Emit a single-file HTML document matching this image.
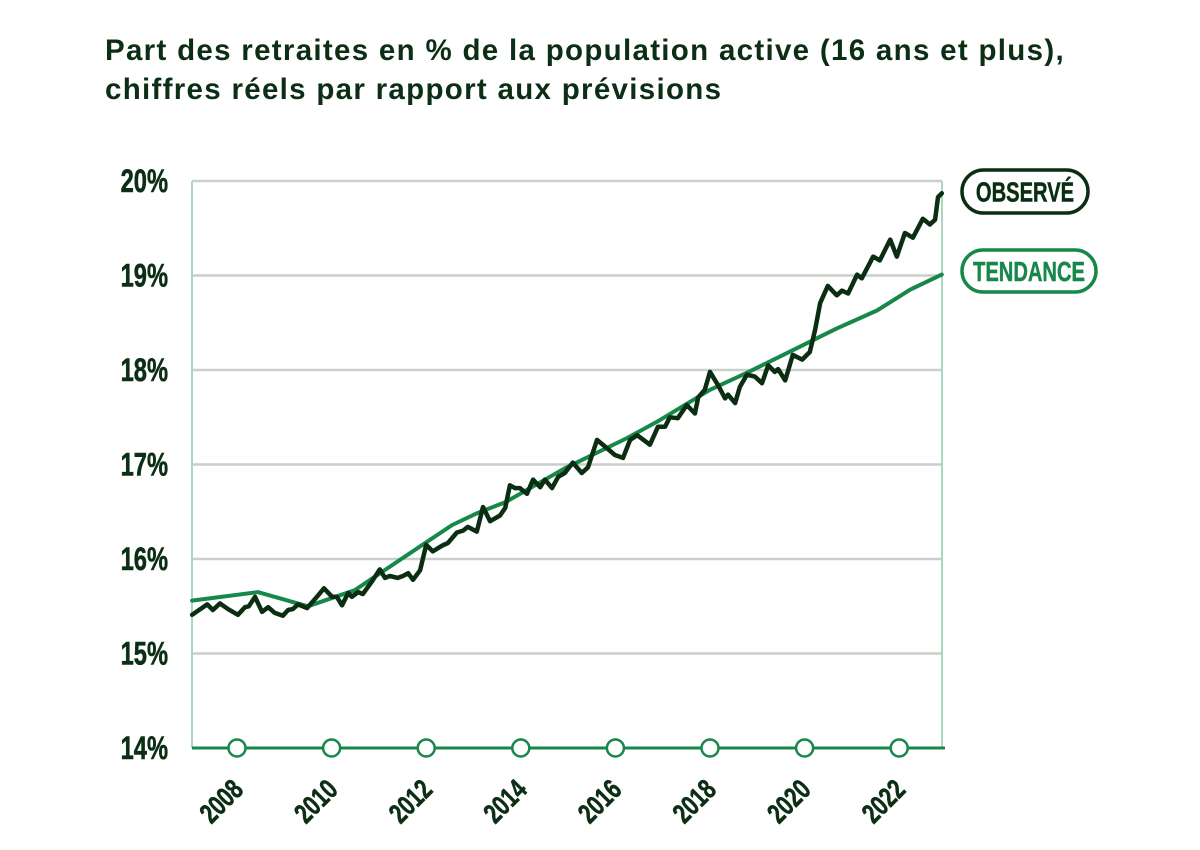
<!DOCTYPE html>
<html><head><meta charset="utf-8"><style>
body{margin:0;background:#fff;width:1200px;height:850px;overflow:hidden;font-family:"Liberation Sans",sans-serif}
.title{position:absolute;left:105px;top:31px;font-size:29.5px;font-weight:bold;color:#0c2e14;line-height:39px;letter-spacing:1.3px;white-space:nowrap}
</style></head><body>
<div class="title">Part des retraites en % de la population active (16 ans et plus),<br>chiffres réels par rapport aux prévisions</div>
<svg id="chart" width="1200" height="850" style="position:absolute;left:0;top:0"></svg>
<script>
const yTicks=[14,15,16,17,18,19,20];
const yTickLabels=["14%","15%","16%","17%","18%","19%","20%"];
const xTicks=[2008,2010,2012,2014,2016,2018,2020,2022];
const obsYears=[2007.05,2007.37,2007.49,2007.64,2007.81,2008.02,2008.17,2008.25,2008.38,2008.53,2008.66,2008.80,2008.97,2009.08,2009.18,2009.29,2009.48,2009.69,2009.84,2010.01,2010.11,2010.22,2010.35,2010.43,2010.56,2010.66,2010.85,2011.02,2011.13,2011.23,2011.40,2011.51,2011.62,2011.72,2011.87,2012.00,2012.14,2012.33,2012.46,2012.65,2012.78,2012.88,2013.07,2013.20,2013.35,2013.56,2013.67,2013.77,2013.88,2013.98,2014.13,2014.26,2014.41,2014.51,2014.66,2014.79,2014.93,2015.10,2015.29,2015.42,2015.61,2015.78,2015.99,2016.16,2016.31,2016.46,2016.73,2016.90,2017.05,2017.15,2017.32,2017.51,2017.68,2017.75,2017.89,2018.00,2018.17,2018.32,2018.38,2018.53,2018.63,2018.78,2018.95,2019.10,2019.23,2019.37,2019.44,2019.59,2019.75,2019.95,2020.11,2020.22,2020.33,2020.49,2020.68,2020.79,2020.92,2021.11,2021.21,2021.45,2021.59,2021.81,2021.95,2022.12,2022.29,2022.50,2022.65,2022.76,2022.82,2022.90];
const obsValues=[15.41,15.52,15.46,15.53,15.47,15.41,15.49,15.50,15.60,15.44,15.49,15.43,15.40,15.46,15.47,15.52,15.48,15.60,15.69,15.60,15.60,15.51,15.64,15.60,15.65,15.63,15.76,15.89,15.80,15.82,15.80,15.82,15.85,15.78,15.88,16.15,16.08,16.14,16.17,16.28,16.30,16.34,16.29,16.55,16.40,16.46,16.54,16.78,16.75,16.75,16.69,16.84,16.76,16.84,16.75,16.87,16.91,17.02,16.91,16.97,17.26,17.19,17.10,17.07,17.26,17.31,17.21,17.40,17.40,17.50,17.49,17.63,17.54,17.71,17.79,17.98,17.84,17.70,17.74,17.65,17.82,17.95,17.93,17.86,18.05,17.98,18.01,17.89,18.16,18.11,18.19,18.42,18.71,18.89,18.79,18.84,18.81,19.01,18.97,19.20,19.16,19.38,19.20,19.45,19.40,19.60,19.54,19.59,19.83,19.87];
const trendYears=[2007.05,2008.44,2009.50,2010.49,2011.83,2012.55,2013.10,2013.67,2014.93,2016.25,2016.94,2018.00,2018.78,2019.75,2020.68,2021.53,2022.23,2022.90];
const trendValues=[15.56,15.65,15.50,15.67,16.12,16.36,16.49,16.60,16.96,17.28,17.47,17.79,17.97,18.21,18.44,18.63,18.85,19.01];

const svg=document.getElementById('chart');
const NS='http://www.w3.org/2000/svg';
const X0=192,X1=942,Y0=748,Y1=181;
const xS=t=>237+(t-2008)*47.3;
const yS=v=>Y0-(v-14)*(Y0-Y1)/6;
function mk(tag,attrs,parent){const e=document.createElementNS(NS,tag);for(const k in attrs)e.setAttribute(k,attrs[k]);(parent||svg).appendChild(e);return e;}
yTicks.forEach((v,i)=>{
  if(v>14){const g=mk('line',{x1:X0,x2:X1,y1:yS(v),y2:yS(v),stroke:'#c9cfcb','stroke-width':2.5});
  
  }
  const t=mk('text',{x:0,y:0,'text-anchor':'end','font-size':32,'font-weight':'bold',fill:'#0c2e14','font-family':'Liberation Sans, sans-serif',stroke:'#0c2e14','stroke-width':0.6,transform:'translate(168,'+(yS(v)+11)+') scale(0.74,1)'});
  t.textContent=yTickLabels[i];
  
  
});
const la=mk('line',{x1:X0,x2:X0,y1:Y1,y2:Y0,stroke:'#a9d8bd','stroke-width':2});


const ra=mk('line',{x1:X1,x2:X1,y1:Y1,y2:Y0,stroke:'#a9d8bd','stroke-width':2});


function path(xs,vs,color,w,name){
  const d=xs.map((t,i)=>(i?'L':'M')+xS(t).toFixed(1)+','+yS(vs[i]).toFixed(1)).join('');
  const p=mk('path',{d:d,fill:'none',stroke:color,'stroke-width':w,'stroke-linejoin':'round','stroke-linecap':'round'});
  
  
}
path(trendYears,trendValues,'#17874a',4,'trend-line');
path(obsYears,obsValues,'#0b2d12',4.5,'observed-line');
const xa=mk('line',{x1:X0,x2:945,y1:Y0,y2:Y0,stroke:'#17874a','stroke-width':3});


xTicks.forEach(y=>{
  const c=mk('circle',{cx:xS(y),cy:Y0,r:8.5,fill:'#fff',stroke:'#17874a','stroke-width':2.5});
  
  
  const t=mk('text',{x:0,y:0,'text-anchor':'middle','font-size':28,'font-weight':'bold',fill:'#0c2e14','font-family':'Liberation Sans, sans-serif',stroke:'#0c2e14','stroke-width':0.6,transform:'translate('+(xS(y)-9)+','+808+') rotate(-45) scale(0.76,1)'});
  t.textContent=y;
  
  
});
function pill(x,y,w,h,color,label,name){
  const g=mk('g',{});
  
  
  mk('rect',{x:x,y:y,width:w,height:h,rx:h/2,fill:'#fff',stroke:color,'stroke-width':3.5},g);
  const t=mk('text',{x:0,y:0,'text-anchor':'middle','font-size':28,'font-weight':'bold',fill:color,stroke:color,'stroke-width':0.5,'font-family':'Liberation Sans, sans-serif',transform:'translate('+(x+w/2)+','+(y+h/2+10)+') scale(0.72,1)'},g);
  t.textContent=label;
}
pill(962,170,126,43,'#0b2d12','OBSERVÉ','legend-observed');
pill(962,250,134,42,'#17874a','TENDANCE','legend-trend');
</script>
</body></html>
